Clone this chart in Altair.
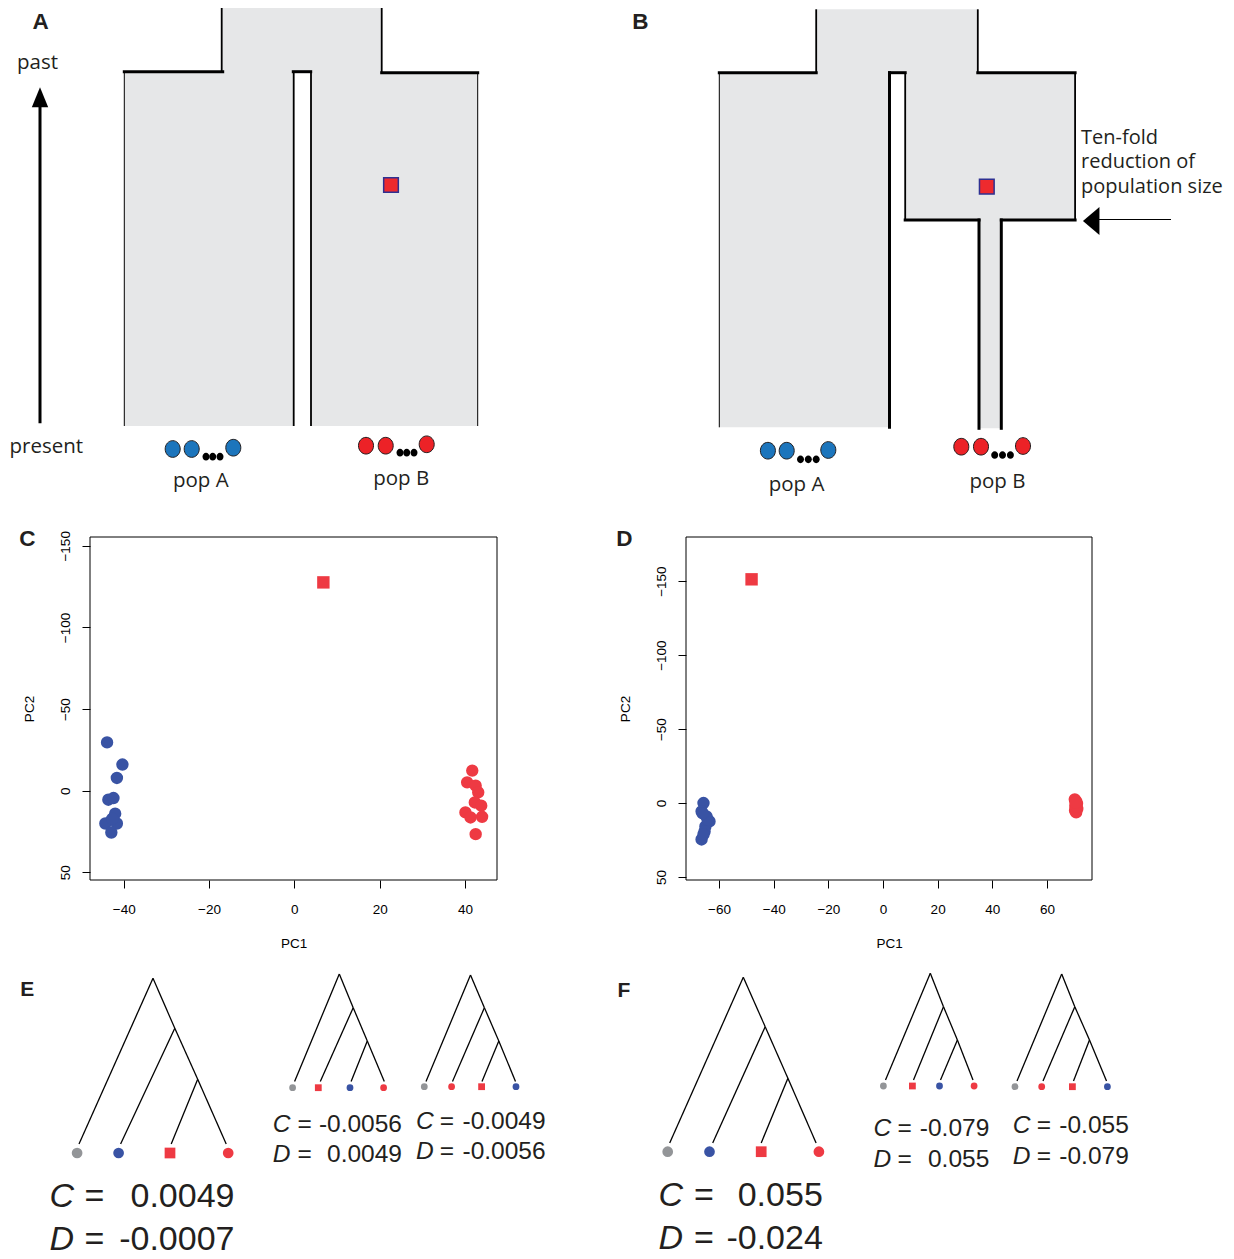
import altair as alt
import pandas as pd

FONT = "Liberation Sans"
SFONT = "Open Sans"
GRAY_FILL = "#E6E7E8"
SCH_BLUE = "#1C75BC"
SCH_RED = "#EC2227"
OUTLINE = "#231F20"
NAVY = "#2E3192"
PCA_BLUE = "#3953A4"
PCA_RED = "#EE3A43"
TREE_GRAY = "#939598"
ELLIPSE = "M-0.9,0A0.9,1,0,1,1,0.9,0A0.9,1,0,1,1,-0.9,0Z"

# ---------------- Panels A / B : demographic schematic (figure pixel units) -------------
block_x0 = [124.5, 311.0, 222.0, 719.3, 816.2, 905.2, 979.0]
block_x1 = [293.7, 477.7, 381.7, 889.5, 977.8, 1075.1, 1001.3]
block_y0 = [72.0, 72.0, 8.0, 72.7, 9.3, 72.7, 219.0]
block_y1 = [426.0, 426.0, 72.5, 427.3, 73.0, 220.0, 428.3]

thick_edges = [
    (124.3, 71.7, 222.7, 71.7), (293.3, 71.7, 310.7, 71.7), (381.7, 72.7, 477.7, 72.7),
    (719.3, 72.7, 816.2, 72.7), (889.5, 72.7, 905.2, 72.7), (977.8, 72.7, 1075.1, 72.7),
    (905.2, 220.0, 979.0, 220.0), (1001.3, 220.0, 1075.1, 220.0),
    (979.0, 220.0, 979.0, 428.3), (1001.3, 220.0, 1001.3, 428.3),
    (889.5, 72.7, 889.5, 427.3),
]
medium_edges = [
    (293.7, 71.7, 293.7, 426.0), (311.0, 71.7, 311.0, 426.0),
    (221.7, 8.0, 221.7, 71.7), (381.7, 8.0, 381.7, 72.7),
    (905.2, 72.7, 905.2, 220.0), (1075.1, 72.7, 1075.1, 220.0),
    (816.2, 9.3, 816.2, 72.7), (977.8, 9.3, 977.8, 72.7),
]
thin_edges = [
    (124.3, 72.0, 124.3, 426.0), (477.7, 72.0, 477.7, 426.0),
    (719.3, 72.7, 719.3, 427.3), (1099.0, 219.5, 1171.0, 219.5),
]
arrow_shaft = [(40.0, 106.0, 40.0, 423.3)]
arrowhead_up_xy = [(40.0, 97.3)]
arrowhead_left_xy = [(1091.2, 221.0)]

schem_square_x = [391.0, 986.8]
schem_square_y = [185.0, 186.7]

sample_pop = ["A", "A", "A", "B", "B", "B", "A", "A", "A", "B", "B", "B"]
sample_x = [172.7, 191.7, 233.3, 366.0, 385.7, 426.7, 767.9, 786.7, 828.3, 961.3, 981.0, 1023.0]
sample_y = [449.0, 449.0, 447.7, 445.7, 445.7, 444.3, 450.7, 450.7, 450.0, 446.7, 446.7, 446.0]
ellipsis_x = [206.0, 212.7, 220.0, 400.0, 406.7, 414.0, 800.5, 808.3, 816.2, 994.7, 1002.5, 1010.4]
ellipsis_y = [456.7] * 3 + [452.7] * 3 + [459.3] * 3 + [455.0] * 3

sch_label_text = ["past", "present", "pop A", "pop B", "pop A", "pop B"]
sch_label_x = [37.5, 46.3, 200.8, 401.2, 796.5, 997.4]
sch_label_y = [69.3, 453.3, 487.3, 485.0, 490.5, 488.3]
note_text = ["Ten-fold", "reduction of", "population size"]
note_x = [1081.0, 1081.0, 1081.0]
note_y = [144.0, 168.3, 193.3]

panel_letters = ["A", "B", "C", "D", "E", "F"]
panel_letter_x = [40.7, 640.4, 27.3, 624.3, 27.3, 624.0]
panel_letter_y = [29.0, 29.3, 546.3, 546.0, 996.0, 996.7]
panel_letter_size = [22.5, 22.5, 22.5, 22.5, 21.0, 21.0]

# ---------------- Panels C / D : PCA ----------------
c_popA_pc1 = [-43.9, -40.3, -41.6, -43.6, -42.4, -42.0, -44.3, -41.6, -42.9, -42.7]
c_popA_pc2 = [-29.6, -16.0, -7.8, 5.5, 4.5, 14.1, 20.1, 20.1, 25.6, 17.2]
c_popB_pc1 = [41.7, 40.5, 42.5, 43.1, 42.3, 43.8, 40.1, 41.3, 44.0, 42.5]
c_popB_pc2 = [-12.3, -5.1, -3.1, 1.0, 7.2, 9.2, 13.3, 16.4, 16.0, 26.6]
c_admixed = [6.8, -127.6]
d_popA_pc1 = [-65.7, -66.4, -64.6, -63.5, -65.0, -65.3, -66.4, -64.2, -66.0, -65.7]
d_popA_pc2 = [0.0, 5.6, 9.0, 12.4, 15.8, 19.2, 24.6, 11.0, 7.0, 21.2]
d_popB_pc1 = [70.2, 70.8, 71.0, 70.4, 70.6, 71.1, 70.3, 70.7, 70.9, 70.5]
d_popB_pc2 = [-2.5, -1.0, 0.5, 1.8, 3.0, 4.0, 5.0, 6.3, 2.5, -0.2]
d_admixed = [-48.1, -151.2]
c_xticks = [-40, -20, 0, 20, 40]
d_xticks = [-60, -40, -20, 0, 20, 40, 60]
pc2_ticks = [-150, -100, -50, 0, 50]
c_xdomain = [-47.9, 47.5]
c_ydomain = [-155.4, 54.7]
d_xdomain = [-72.1, 76.5]
d_ydomain = [-179.8, 52.0]

# ---------------- Panels E / F : trees and statistics ----------------
tree_leaf_kind = [["out", "A", "adm", "B"], ["out", "adm", "A", "B"], ["out", "B", "adm", "A"],
                  ["out", "A", "adm", "B"], ["out", "adm", "A", "B"], ["out", "B", "adm", "A"]]
tree_root = [(153.0, 978.3), (339.3, 974.0), (470.5, 975.0), (743.3, 977.3), (930.3, 973.3), (1061.7, 974.0)]
tree_node1 = [(174.8, 1028.3), (353.2, 1007.7), (484.4, 1007.7), (765.2, 1026.7), (943.5, 1006.7), (1074.8, 1006.7)]
tree_node2 = [(197.7, 1079.3), (367.3, 1041.0), (498.8, 1041.0), (787.9, 1078.3), (957.4, 1040.0), (1089.5, 1040.0)]
tree_tip_x = [[79.0, 120.6, 171.2, 226.2], [294.6, 320.3, 351.1, 384.3], [426.0, 452.5, 482.0, 515.5],
              [669.7, 712.7, 761.2, 816.1], [885.5, 913.5, 940.5, 973.0], [1017.0, 1043.0, 1073.5, 1106.5]]
tree_tip_y = [1144.0, 1081.5, 1081.5, 1143.0, 1080.0, 1081.0]
tree_leaf_x = [[77.1, 118.6, 170.0, 228.2], [292.6, 318.3, 350.0, 383.6], [424.3, 451.6, 481.6, 516.0],
               [667.7, 709.5, 761.2, 818.9], [883.4, 912.4, 939.5, 974.1], [1015.0, 1041.7, 1072.4, 1107.4]]
tree_leaf_y = [1153.0, 1087.7, 1086.7, 1151.7, 1086.0, 1086.7]
tree_big = [True, False, False, True, False, False]

stat_C = ["0.0049", "-0.0056", "-0.0049", "0.055", "-0.079", "-0.055"]
stat_D = ["-0.0007", "0.0049", "-0.0056", "-0.024", "0.055", "-0.079"]
stat_letter_x = [49.4, 272.8, 416.0, 658.5, 873.4, 1012.7]
stat_eq_x = [84.6, 297.4, 439.8, 694.0, 897.4, 1036.7]
stat_val_right = [234.5, 402.0, 545.6, 822.8, 989.3, 1128.8]
stat_C_base = [1207.0, 1131.7, 1129.0, 1205.5, 1135.7, 1133.3]
stat_D_base = [1249.5, 1161.7, 1159.0, 1249.0, 1166.7, 1164.0]

# =====================================================================
W, H = 1218, 1251
XF = alt.Scale(domain=[8, 1226], range=[0, W], nice=False, zero=False)
YF = alt.Scale(domain=[8, 1259], range=[0, H], nice=False, zero=False)


def fxy(xf="x", yf="y"):
    return dict(x=alt.X(f"{xf}:Q", scale=XF, axis=None), y=alt.Y(f"{yf}:Q", scale=YF, axis=None))


def seg_layer(segs, width, cap="butt"):
    df = pd.DataFrame(segs, columns=["x0", "y0", "x1", "y1"])
    return alt.Chart(df).mark_rule(strokeWidth=width, strokeCap=cap, color="black").encode(
        x2="x1:Q", y2="y1:Q", **fxy("x0", "y0"))


layers = []

# ---------------- schematic A / B ----------------
blocks = pd.DataFrame({"x0": block_x0, "x1": block_x1, "y0": block_y0, "y1": block_y1})
layers.append(alt.Chart(blocks).mark_rect(color=GRAY_FILL).encode(x2="x1:Q", y2="y1:Q", **fxy("x0", "y0")))
layers.append(seg_layer(thin_edges, 1.0))
layers.append(seg_layer(medium_edges, 1.8))
layers.append(seg_layer(thick_edges, 3.0, cap="square"))
layers.append(seg_layer(arrow_shaft, 3.0))
up = pd.DataFrame(arrowhead_up_xy, columns=["x", "y"])
layers.append(alt.Chart(up).mark_point(shape="M0,-1L0.82,1L-0.82,1Z", filled=True, opacity=1,
                                       color="black", size=400).encode(**fxy()))
lf = pd.DataFrame(arrowhead_left_xy, columns=["x", "y"])
layers.append(alt.Chart(lf).mark_point(shape="M-0.59,0L0.59,-1L0.59,1Z", filled=True, opacity=1,
                                       color="black", size=784).encode(**fxy()))
sq = pd.DataFrame({"x": schem_square_x, "y": schem_square_y})
layers.append(alt.Chart(sq).mark_square(size=215, fill="#EE2A2E", stroke=NAVY, strokeWidth=1.5,
                                        opacity=1).encode(**fxy()))
samples = pd.DataFrame({"x": sample_x, "y": sample_y, "pop": sample_pop})
layers.append(alt.Chart(samples).mark_point(shape=ELLIPSE, filled=True, size=279, stroke=OUTLINE,
                                            strokeWidth=1, opacity=1).encode(
    fill=alt.Fill("pop:N", scale=alt.Scale(domain=["A", "B"], range=[SCH_BLUE, SCH_RED]), legend=None),
    **fxy()))
dots = pd.DataFrame({"x": ellipsis_x, "y": ellipsis_y})
layers.append(alt.Chart(dots).mark_point(shape=ELLIPSE, filled=True, size=60, color="black",
                                         opacity=1).encode(**fxy()))
labs = pd.DataFrame({"x": sch_label_x, "y": sch_label_y, "t": sch_label_text})
layers.append(alt.Chart(labs).mark_text(font=SFONT, fontSize=20.5, align="center", baseline="alphabetic",
                                        color=OUTLINE).encode(text="t:N", **fxy()))
notes = pd.DataFrame({"x": note_x, "y": note_y, "t": note_text})
layers.append(alt.Chart(notes).mark_text(font=SFONT, fontSize=20, align="left", baseline="alphabetic",
                                         color=OUTLINE).encode(text="t:N", **fxy()))
pl = pd.DataFrame({"x": panel_letter_x, "y": panel_letter_y, "t": panel_letters, "fs": panel_letter_size})
layers.append(alt.Chart(pl).mark_text(font=FONT, fontWeight="bold", align="center", baseline="alphabetic",
                                      color=OUTLINE).encode(
    text="t:N", size=alt.Size("fs:Q", scale=None, legend=None), **fxy()))


# ---------------- PCA C / D ----------------
def pca_layers(a1, a2, b1, b2, adm, xdom, ydom, xvals, xrange, yrange):
    xs = alt.Scale(domain=xdom, range=xrange, nice=False, zero=False)
    ys = alt.Scale(domain=ydom, range=yrange, nice=False, zero=False)
    groups = ["pop A", "pop B", "admixed"]
    df = pd.DataFrame({
        "PC1": a1 + b1 + [adm[0]],
        "PC2": a2 + b2 + [adm[1]],
        "group": ["pop A"] * len(a1) + ["pop B"] * len(b1) + ["admixed"],
    })
    common = dict(grid=False, domain=False, tickSize=8, tickColor="black", tickWidth=1,
                  labelFont=FONT, labelFontSize=13.5, labelColor="black",
                  labelFlush=False, labelOverlap=False, labelBound=False,
                  titleFont=FONT, titleFontSize=13.5, titleFontWeight="normal", titleColor="black")
    xaxis = alt.Axis(values=xvals, title="PC1", orient="bottom", offset=-(H - yrange[1]),
                     labelPadding=25, labelBaseline="alphabetic",
                     titleBaseline="alphabetic", titleY=67, **common)
    yaxis = alt.Axis(values=pc2_ticks, title="PC2", orient="left", offset=-xrange[0],
                     labelAngle=270, labelAlign="center",
                     labelBaseline="alphabetic", labelPadding=13, titleAngle=270, titleAlign="center",
                     titleBaseline="alphabetic", titleX=-57, **common)
    box = pd.DataFrame({"x0": [xdom[0]], "x1": [xdom[1]], "y0": [ydom[0]], "y1": [ydom[1]]})
    frame = alt.Chart(box).mark_rect(filled=False, color="black", strokeWidth=1).encode(
        x=alt.X("x0:Q", scale=xs, axis=None), x2="x1:Q",
        y=alt.Y("y0:Q", scale=ys, axis=None), y2="y1:Q")
    pts = alt.Chart(df).mark_point(filled=True, opacity=1, strokeWidth=0).encode(
        x=alt.X("PC1:Q", scale=xs, axis=xaxis),
        y=alt.Y("PC2:Q", scale=ys, axis=yaxis),
        fill=alt.Fill("group:N", scale=alt.Scale(domain=groups, range=[PCA_BLUE, PCA_RED, PCA_RED]), legend=None),
        shape=alt.Shape("group:N", scale=alt.Scale(domain=groups, range=["circle", "circle", "square"]), legend=None),
        size=alt.Size("group:N", scale=alt.Scale(domain=groups, range=[154, 154, 196]), legend=None),
    )
    return [frame, pts]


layers += pca_layers(c_popA_pc1, c_popA_pc2, c_popB_pc1, c_popB_pc2, c_admixed,
                     c_xdomain, c_ydomain, c_xticks, [82, 489], [529, 872])
layers += pca_layers(d_popA_pc1, d_popA_pc2, d_popB_pc1, d_popB_pc2, d_admixed,
                     d_xdomain, d_ydomain, d_xticks, [678, 1084], [529, 872])

# ---------------- trees E / F ----------------
edge_rows, leaf_rows = [], []
for t in range(len(tree_root)):
    R, N1, N2 = tree_root[t], tree_node1[t], tree_node2[t]
    tips = [(x, tree_tip_y[t]) for x in tree_tip_x[t]]
    for a, b in [(R, tips[0]), (R, N1), (N1, tips[1]), (N1, N2), (N2, tips[2]), (N2, tips[3])]:
        edge_rows.append((a[0], a[1], b[0], b[1]))
    for k, x in zip(tree_leaf_kind[t], tree_leaf_x[t]):
        leaf_rows.append({"x": x, "y": tree_leaf_y[t], "kind": k, "big": tree_big[t]})
leaves = pd.DataFrame(leaf_rows)
kinds = ["out", "A", "B", "adm"]

layers.append(seg_layer(edge_rows, 1.3))


def leaf_layer(big, sizes):
    d = leaves[leaves["big"] == big]
    return alt.Chart(d).mark_point(filled=True, opacity=1, strokeWidth=0).encode(
        fill=alt.Fill("kind:N", scale=alt.Scale(domain=kinds, range=[TREE_GRAY, PCA_BLUE, PCA_RED, PCA_RED]),
                      legend=None),
        shape=alt.Shape("kind:N", scale=alt.Scale(domain=kinds, range=["circle", "circle", "circle", "square"]),
                        legend=None),
        size=alt.Size("kind:N", scale=alt.Scale(domain=kinds, range=sizes), legend=None),
        **fxy())


layers.append(leaf_layer(True, [115, 115, 115, 144]))
layers.append(leaf_layer(False, [46, 46, 46, 56]))

stat_rows = []
for t in range(len(stat_C)):
    fs = 34 if tree_big[t] else 24.5
    for letter, val, base in [("C", stat_C[t], stat_C_base[t]), ("D", stat_D[t], stat_D_base[t])]:
        stat_rows.append({"letter": letter, "val": val, "eq": "=", "lx": stat_letter_x[t],
                          "ex": stat_eq_x[t], "vx": stat_val_right[t], "y": base, "fs": fs})
stats = pd.DataFrame(stat_rows)
for field, xf, align, style in [("letter", "lx", "left", "italic"), ("eq", "ex", "left", "normal"),
                                ("val", "vx", "right", "normal")]:
    layers.append(alt.Chart(stats).mark_text(font=FONT, fontStyle=style, align=align, baseline="alphabetic",
                                             color=OUTLINE).encode(
        text=f"{field}:N", size=alt.Size("fs:Q", scale=None, legend=None), **fxy(xf, "y")))

chart = alt.layer(*layers).resolve_scale(
    x="independent", y="independent", fill="independent", shape="independent", size="independent"
).properties(width=W, height=H, padding=0, autosize=alt.AutoSizeParams(type="none")).configure_view(
    stroke="transparent")

chart.save("out.html", embed_options={"renderer": "svg", "actions": False})
